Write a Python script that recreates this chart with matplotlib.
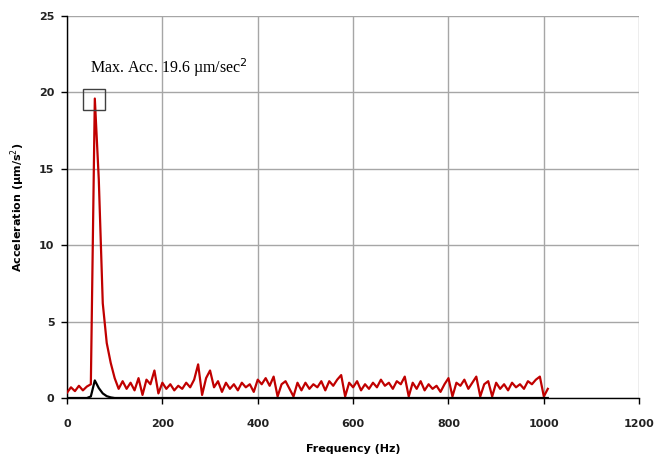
import matplotlib
matplotlib.use("Agg")
import matplotlib.pyplot as plt
import numpy as np
from matplotlib.patches import Rectangle

# ── Data ────────────────────────────────────────────────────────────────────
freq_step = 1000.0 / 120.0
red_acc = [
    0.35, 0.7, 0.45, 0.8, 0.5, 0.75, 0.9, 19.6, 14.3, 6.2,
    3.6, 2.3, 1.3, 0.6, 1.1, 0.6, 1.0, 0.5, 1.3, 0.2,
    1.2, 0.9, 1.8, 0.3, 1.0, 0.6, 0.9, 0.5, 0.8, 0.6,
    1.0, 0.7, 1.2, 2.2, 0.2, 1.3, 1.8, 0.7, 1.1, 0.4,
    1.0, 0.6, 0.9, 0.5, 1.0, 0.7, 0.9, 0.4, 1.2, 0.9,
    1.3, 0.8, 1.4, 0.1, 0.9, 1.1, 0.6, 0.1, 1.0, 0.5,
    1.0, 0.6, 0.9, 0.7, 1.1, 0.5, 1.1, 0.8, 1.2, 1.5,
    0.1, 1.0, 0.7, 1.1, 0.5, 0.9, 0.6, 1.0, 0.7, 1.2,
    0.8, 1.0, 0.6, 1.1, 0.9, 1.4, 0.1, 1.0, 0.6, 1.1,
    0.5, 0.9, 0.6, 0.8, 0.4, 0.9, 1.3, 0.1, 1.0, 0.8,
    1.2, 0.6, 1.0, 1.4, 0.1, 0.9, 1.1, 0.1, 1.0, 0.6,
    0.9, 0.5, 1.0, 0.7, 0.9, 0.6, 1.1, 0.9, 1.2, 1.4,
    0.1, 0.6,
]
black_peak = [0.0, 0.0, 0.0, 0.0, 0.0, 0.0, 0.1, 1.15, 0.65, 0.3, 0.12, 0.04]
black_acc = black_peak + [0.0] * (len(red_acc) - len(black_peak))
freq = np.arange(len(red_acc)) * freq_step

max_acc = max(red_acc)
max_freq = freq[int(np.argmax(red_acc))]

x_ticks = [0, 200, 400, 600, 800, 1000, 1200]
y_ticks = [0, 5, 10, 15, 20, 25]

# ── Figure ─────────────────────────────────────────────────────────────────
fig = plt.figure(figsize=(6.72, 4.58), dpi=100)
ax = fig.add_axes([0.0997, 0.131, 0.8515, 0.834])

ax.plot(freq, red_acc, color="#c00000", lw=1.6, zorder=3)
ax.plot(freq, black_acc, color="black", lw=1.6, zorder=4)

# box around the maximum
ax.add_patch(Rectangle((max_freq - 24, max_acc - 0.75), 46, 1.35,
                       fill=False, edgecolor="#404040", lw=1.0, zorder=5))
ax.text(48, 21.3, "Max. Acc. 19.6 \u00b5m/sec$^2$", family="Liberation Serif",
        fontsize=11.5, va="baseline", ha="left")

ax.set_xlim(0, 1200)
ax.set_ylim(0, 25)
ax.set_xticks(x_ticks)
ax.set_yticks(y_ticks)
ax.grid(True, color="#a6a6a6", lw=1.0)
ax.set_axisbelow(True)
for side in ["top", "right"]:
    ax.spines[side].set_visible(False)
for side in ["left", "bottom"]:
    ax.spines[side].set_color("black")
    ax.spines[side].set_linewidth(1.0)
ax.tick_params(direction="out", length=4, width=1.0, labelsize=8)
ax.tick_params(axis="x", pad=11)
ax.tick_params(axis="y", pad=5)
for lbl in ax.get_xticklabels() + ax.get_yticklabels():
    lbl.set_fontweight("bold")
    lbl.set_color("#222222")

ax.set_xlabel("Frequency (Hz)", fontsize=8, fontweight="bold", labelpad=11)
ax.set_ylabel("Acceleration (\u00b5m/s$^2$)", fontsize=8, fontweight="bold")
ax.yaxis.set_label_coords(-0.07, 0.5)

fig.savefig("out.png", dpi=100)
